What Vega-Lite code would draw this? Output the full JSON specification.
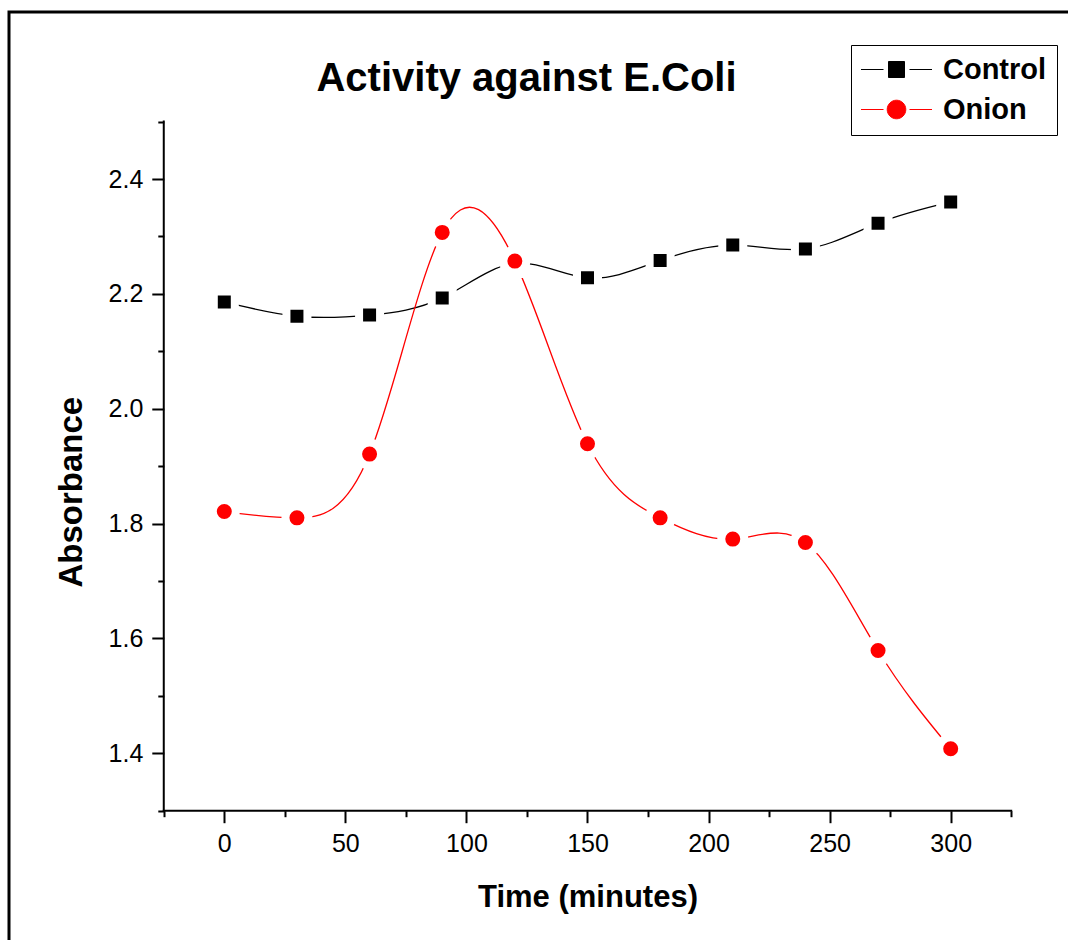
{
  "$schema": "https://vega.github.io/schema/vega-lite/v6.json",
  "width": 1062,
  "height": 931,
  "autosize": {"type": "none"},
  "padding": {"left": 9, "top": 12, "right": -3, "bottom": -3},
  "background": "white",
  "title": {
    "text": "Activity against E.Coli",
    "font": "Liberation Sans",
    "fontSize": 40,
    "fontWeight": "bold",
    "color": "black",
    "anchor": "middle",
    "frame": "group",
    "baseline": "alphabetic",
    "offset": -119,
    "dx": -13.5
  },
  "config": {
    "view": {"stroke": "black", "strokeWidth": 3},
    "axis": {
      "domain": false,
      "grid": false,
      "tickColor": "black",
      "tickWidth": 2,
      "labelFont": "Liberation Sans",
      "labelFontSize": 25,
      "labelColor": "black",
      "labelOverlap": false,
      "labelFlush": false,
      "titleFont": "Liberation Sans",
      "titleFontWeight": "bold",
      "titleColor": "black"
    }
  },
  "resolve": {"axis": {"x": "independent", "y": "independent"}},
  "data": {
    "values": [
      {"time": 0, "absorbance": 2.186, "series": "Control"},
      {"time": 30, "absorbance": 2.161, "series": "Control"},
      {"time": 60, "absorbance": 2.163, "series": "Control"},
      {"time": 90, "absorbance": 2.193, "series": "Control"},
      {"time": 120, "absorbance": 2.253, "series": "Control"},
      {"time": 150, "absorbance": 2.228, "series": "Control"},
      {"time": 180, "absorbance": 2.258, "series": "Control"},
      {"time": 210, "absorbance": 2.285, "series": "Control"},
      {"time": 240, "absorbance": 2.278, "series": "Control"},
      {"time": 270, "absorbance": 2.323, "series": "Control"},
      {"time": 300, "absorbance": 2.360, "series": "Control"},
      {"time": 0, "absorbance": 1.821, "series": "Onion"},
      {"time": 30, "absorbance": 1.810, "series": "Onion"},
      {"time": 60, "absorbance": 1.921, "series": "Onion"},
      {"time": 90, "absorbance": 2.307, "series": "Onion"},
      {"time": 120, "absorbance": 2.257, "series": "Onion"},
      {"time": 150, "absorbance": 1.939, "series": "Onion"},
      {"time": 180, "absorbance": 1.810, "series": "Onion"},
      {"time": 210, "absorbance": 1.773, "series": "Onion"},
      {"time": 240, "absorbance": 1.767, "series": "Onion"},
      {"time": 270, "absorbance": 1.579, "series": "Onion"},
      {"time": 300, "absorbance": 1.408, "series": "Onion"}
    ]
  },
  "layer": [
    {
      "mark": {"type": "line", "interpolate": "natural", "strokeWidth": 1.3},
      "encoding": {
        "x": {
          "field": "time",
          "type": "quantitative",
          "scale": {"domain": [-88.92, 349.69], "nice": false, "zero": false},
          "axis": {
            "orient": "bottom",
            "title": "Time (minutes)",
            "values": [0, 50, 100, 150, 200, 250, 300],
            "tickSize": 12,
            "offset": -132.3,
            "labelPadding": 9,
            "titleFontSize": 31,
            "titleX": 578.5,
            "titleY": 95.3,
            "titleBaseline": "alphabetic",
            "titleAlign": "center"
          }
        },
        "y": {
          "field": "absorbance",
          "type": "quantitative",
          "scale": {"domain": [1.06968, 2.69079], "nice": false, "zero": false},
          "axis": {
            "orient": "left",
            "title": "Absorbance",
            "values": [1.4, 1.6, 1.8, 2.0, 2.2, 2.4],
            "format": ".1f",
            "tickSize": 12,
            "offset": -154.8,
            "labelPadding": 9,
            "titleFontSize": 33,
            "titleX": -82,
            "titleY": 479.7,
            "titleAngle": -90,
            "titleBaseline": "alphabetic",
            "titleAlign": "center"
          }
        },
        "color": {
          "field": "series",
          "type": "nominal",
          "scale": {"domain": ["Control", "Onion"], "range": ["#000000", "#ff0000"]},
          "legend": {
            "title": null,
            "orient": "none",
            "legendX": 842,
            "legendY": 33,
            "padding": 10,
            "rowPadding": 10,
            "strokeColor": "black",
            "fillColor": "white",
            "labelFont": "Liberation Sans",
            "labelFontSize": 29,
            "labelFontWeight": "bold",
            "labelColor": "black",
            "symbolSize": 400,
            "symbolOffset": 21,
            "labelOffset": 32,
            "symbolStrokeWidth": 1,
            "encode": {
              "symbols": {
                "update": {
                  "shape": {"signal": "datum.value === 'Control' ? 'M-3.55,0H-1.3M1.3,0H3.55M-0.8,-0.8H0.8V0.8H-0.8Z' : 'M-3.55,0H-1.3M1.3,0H3.55M-0.93,0A0.93,0.93,0,1,0,0.93,0A0.93,0.93,0,1,0,-0.93,0Z'"},
                  "fill": {"signal": "datum.value === 'Control' ? '#000000' : '#ff0000'"},
                  "stroke": {"signal": "datum.value === 'Control' ? '#000000' : '#ff0000'"},
                  "strokeWidth": {"value": 1},
                  "opacity": {"value": 1},
                  "fillOpacity": {"value": 1},
                  "strokeOpacity": {"value": 1}
                }
              }
            }
          }
        }
      }
    },
    {
      "data": {"values": [{}]},
      "mark": {"type": "rule", "color": "black", "strokeWidth": 2, "strokeCap": "square"},
      "encoding": {
        "x": {"datum": -25, "type": "quantitative", "axis": null},
        "y": {"datum": 1.3, "type": "quantitative", "axis": null},
        "y2": {"datum": 2.5}
      }
    },
    {
      "data": {"values": [{}]},
      "mark": {"type": "rule", "color": "black", "strokeWidth": 2, "strokeCap": "square"},
      "encoding": {
        "x": {"datum": -25, "type": "quantitative", "axis": null},
        "x2": {"datum": 325},
        "y": {"datum": 1.3, "type": "quantitative", "axis": null}
      }
    },
    {
      "transform": [{"filter": "datum.series === 'Control'"}],
      "mark": {"type": "point", "shape": "square", "filled": true, "size": 441, "stroke": "white", "strokeWidth": 8, "opacity": 1, "strokeOpacity": 1},
      "encoding": {
        "x": {
          "field": "time",
          "type": "quantitative",
          "axis": {
            "orient": "bottom",
            "title": null,
            "labels": false,
            "values": [-25, 25, 75, 125, 175, 225, 275, 325],
            "tickSize": 6,
            "offset": -132.3
          }
        },
        "y": {
          "field": "absorbance",
          "type": "quantitative",
          "axis": {
            "orient": "left",
            "title": null,
            "labels": false,
            "values": [1.3, 1.5, 1.7, 1.9, 2.1, 2.3, 2.5],
            "tickSize": 6,
            "offset": -154.8
          }
        },
        "color": {"field": "series", "type": "nominal"}
      }
    },
    {
      "transform": [{"filter": "datum.series === 'Onion'"}],
      "mark": {"type": "point", "shape": "circle", "filled": true, "size": 529, "stroke": "white", "strokeWidth": 8, "opacity": 1, "strokeOpacity": 1},
      "encoding": {
        "x": {"field": "time", "type": "quantitative", "axis": null},
        "y": {"field": "absorbance", "type": "quantitative", "axis": null},
        "color": {"field": "series", "type": "nominal"}
      }
    }
  ]
}
